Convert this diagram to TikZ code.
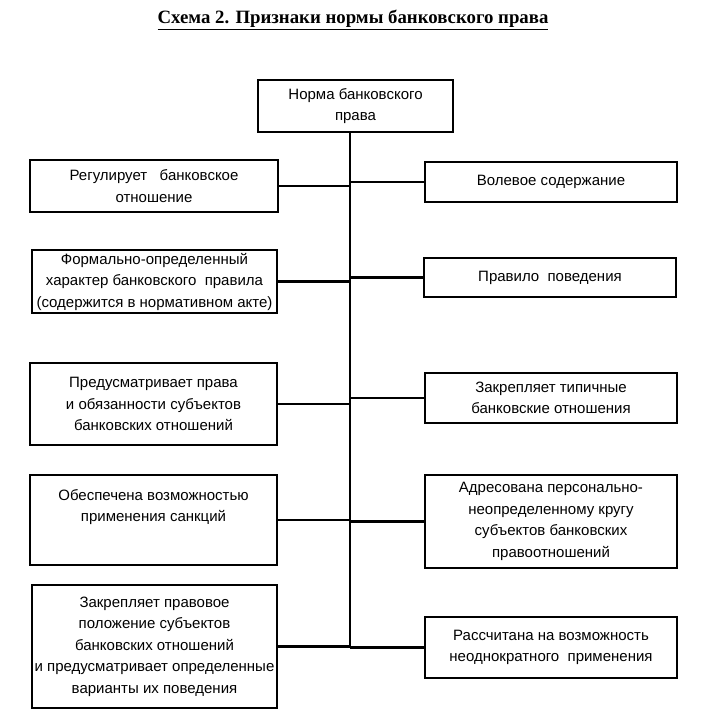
\documentclass[tikz,border=0pt]{standalone}
\usepackage{fontspec}
\setmainfont{Liberation Sans}
\newfontfamily\titlefont{Liberation Serif}
\begin{document}
\begin{tikzpicture}[x=1pt,y=-1pt,
  box/.style={draw, line width=2.4pt, rectangle, inner sep=2pt, align=center,
    font=\fontsize{15}{21.5}\selectfont},
  conn/.style={line width=2.2pt}]
\useasboundingbox (0,0) rectangle (715,724);
\node[font=\titlefont\bfseries\fontsize{18.8}{20}\selectfont] (title) at (353,20) {\underline{Схема 2. Признаки нормы банковского права}};
\node[box, minimum width=195, minimum height=52] (top) at (355.5,106) {Норма банковского\\права};
\node[box, minimum width=248, minimum height=52] (L1) at (154,186) {Регулирует \ \ банковское\\отношение};
\node[box, minimum width=245, minimum height=63] (L2) at (154.5,281.5) {Формально-определенный\\характер банковского \ правила\\(содержится в нормативном акте)};
\node[box, minimum width=247, minimum height=82] (L3) at (153.5,404) {Предусматривает права\\и обязанности субъектов\\банковских отношений};
\node[box, minimum width=247, minimum height=90] (L4) at (153.5,520) {Обеспечена возможностью\\применения санкций\\[8pt]};
\node[box, minimum width=245, minimum height=123] (L5) at (154.5,646.5) {Закрепляет правовое\\положение субъектов\\банковских отношений\\и предусматривает определенные\\варианты их поведения};
\node[box, minimum width=252, minimum height=40] (R1) at (551,182) {Волевое содержание};
\node[box, minimum width=252, minimum height=39] (R2) at (550,277.5) {Правило \ поведения};
\node[box, minimum width=252, minimum height=50] (R3) at (551,398) {Закрепляет типичные\\банковские отношения};
\node[box, minimum width=252, minimum height=93] (R4) at (551,521.5) {Адресована персонально-\\неопределенному кругу\\субъектов банковских\\правоотношений};
\node[box, minimum width=252, minimum height=61] (R5) at (551,647.5) {Рассчитана на возможность\\неоднократного \ применения};
\coordinate (sp) at (350,132);
\coordinate (spb) at (350,647);
\draw[conn] (top.south -| sp) -- (spb);
\foreach \n in {L1,L2,L3,L4,L5} {
  \draw[conn] (\n.east) -- (\n.east -| sp);
}
\foreach \n in {R1,R2,R3,R4,R5} {
  \draw[conn] (\n.west) -- (\n.west -| sp);
}
\end{tikzpicture}
\end{document}
